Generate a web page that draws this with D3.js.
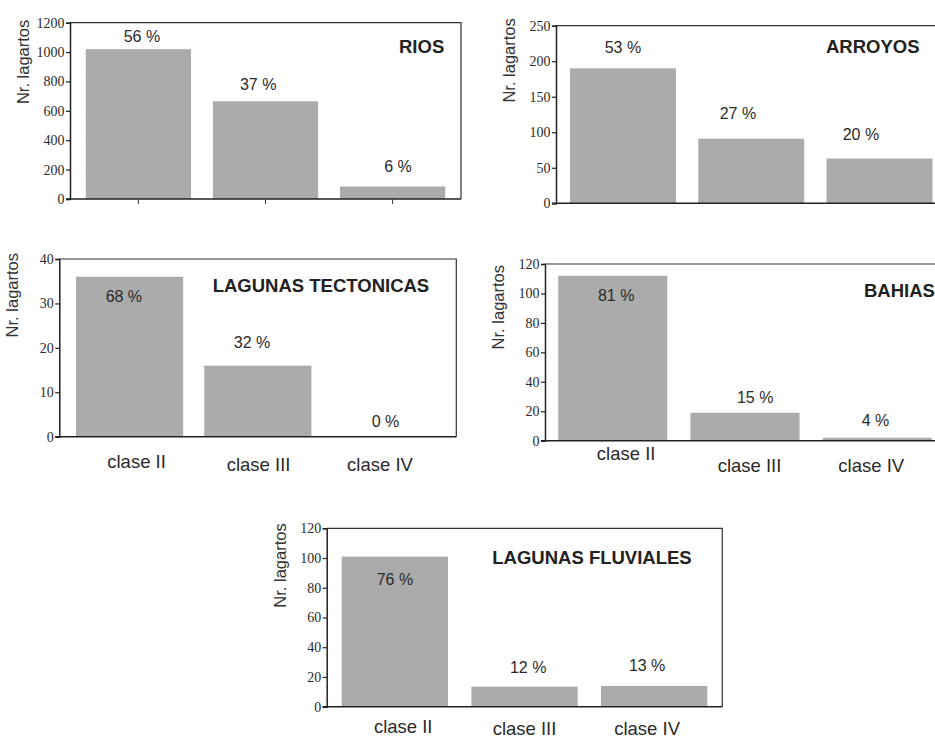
<!DOCTYPE html>
<html>
<head>
<meta charset="utf-8">
<script src="https://cdn.jsdelivr.net/npm/d3@7"></script>
<style>
  html, body { margin: 0; padding: 0; background: #fff; }
  svg { display: block; }
</style>
</head>
<body>
<svg id="chart" width="935" height="739"></svg>
<script>
// ---------------- DATA ----------------
const categories = ["clase II", "clase III", "clase IV"];

const riosValues = [1020, 665, 85];
const riosPct = ["56 %", "37 %", "6 %"];
const riosTicks = [0, 200, 400, 600, 800, 1000, 1200];

const arroyosValues = [190, 91, 63];
const arroyosPct = ["53 %", "27 %", "20 %"];
const arroyosTicks = [0, 50, 100, 150, 200, 250];

const tectonicasValues = [36, 16, 0];
const tectonicasPct = ["68 %", "32 %", "0 %"];
const tectonicasTicks = [0, 10, 20, 30, 40];

const bahiasValues = [112, 19, 2];
const bahiasPct = ["81 %", "15 %", "4 %"];
const bahiasTicks = [0, 20, 40, 60, 80, 100, 120];

const fluvialesValues = [101, 13.5, 14];
const fluvialesPct = ["76 %", "12 %", "13 %"];
const fluvialesTicks = [0, 20, 40, 60, 80, 100, 120];

const yAxisTitle = "Nr. lagartos";

// ---------------- LAYOUT / STYLE ----------------
const panels = [
  { name: "RIOS", values: riosValues, pct: riosPct, ticks: riosTicks,
    left: 70, top: 22.7, right: 461, bottom: 199, pi: 0.172, po: 0.124,
    titleX: 399, titleY: 52.7, titleYOff: -3, xTicks: true, showCats: false,
    lblDy: [-7.3, -11, -14.3], lblDx: [3.5, -7.3, 5.4] },
  { name: "ARROYOS", values: arroyosValues, pct: arroyosPct, ticks: arroyosTicks,
    left: 556, top: 25.7, right: 946.5, bottom: 203.3, pi: 0.174, po: 0.109,
    titleX: 826, titleY: 53.3, titleYOff: -7.5, xTicks: false, showCats: false,
    lblDy: [-15, -19.4, -18.3], lblDx: [0, -13.3, -18.6] },
  { name: "LAGUNAS TECTONICAS", values: tectonicasValues, pct: tectonicasPct, ticks: tectonicasTicks,
    left: 59.3, top: 259, right: 456.3, bottom: 436.7, pi: 0.164, po: 0.13,
    titleX: 212.7, titleY: 291.7, titleYOff: -6, xTicks: false, showCats: true,
    lblDy: [25, -18, -10], lblDx: [-5.7, -5.7, -0.6],
    catDx: [7, 0.8, -6], catDy: [31, 34.3, 34.3] },
  { name: "BAHIAS", values: bahiasValues, pct: bahiasPct, ticks: bahiasTicks,
    left: 545, top: 264, right: 945, bottom: 440.7, pi: 0.175, po: 0.1,
    titleX: 864, titleY: 296.7, titleYOff: 1, xTicks: false, showCats: true,
    lblDy: [25.7, -9.7, -11.7], lblDx: [3.4, 10.2, -1.7],
    catDx: [13.4, 4.5, -6], catDy: [19.3, 31, 31] },
  { name: "LAGUNAS FLUVIALES", values: fluvialesValues, pct: fluvialesPct, ticks: fluvialesTicks,
    left: 326.7, top: 528.3, right: 722.3, bottom: 706.7, pi: 0.18, po: 0.116,
    titleX: 492.3, titleY: 564, titleYOff: -5, xTicks: false, showCats: true,
    lblDy: [28, -14, -15.3], lblDx: [0, 3.7, -7],
    catDx: [8.3, 0, -7], catDy: [26.5, 28.2, 28.2] }
];

const BAR = "#ababab";
const INK = "#2a2a2a";
const SANS = "'Liberation Sans', Arial, sans-serif";
const SERIF = "'Liberation Serif', 'Times New Roman', serif";

const svg = d3.select("#chart");

panels.forEach(p => {
  const g = svg.append("g");
  const x = d3.scaleBand().domain(categories).range([p.left, p.right])
    .paddingInner(p.pi).paddingOuter(p.po);
  const domainMax = p.ticks[p.ticks.length - 1];
  const y = d3.scaleLinear().domain([0, domainMax]).range([p.bottom, p.top]);

  // bars
  g.selectAll("rect.bar").data(p.values).join("rect")
    .attr("class", "bar")
    .attr("x", (d, i) => x(categories[i]))
    .attr("width", x.bandwidth())
    .attr("y", d => y(d))
    .attr("height", d => y(0) - y(d))
    .attr("fill", BAR);

  // frame (top + right)
  g.append("path")
    .attr("d", `M${p.left},${p.top}H${p.right}V${p.bottom}`)
    .attr("fill", "none").attr("stroke", "#333").attr("stroke-width", 1.2);

  // y axis
  const yAxis = d3.axisLeft(y).tickValues(p.ticks).tickSize(4).tickPadding(1.5)
    .tickFormat(d3.format("d"));
  const ya = g.append("g").attr("transform", `translate(${p.left},0)`).call(yAxis);
  ya.select(".domain").attr("stroke", "#222").attr("stroke-width", 1.5);
  ya.selectAll(".tick line").attr("stroke", "#222").attr("stroke-width", 1.2);
  ya.selectAll(".tick text").attr("font-family", SERIF).attr("font-size", 14)
    .attr("fill", INK);

  // x axis (bottom line)
  const xAxis = d3.axisBottom(x).tickSize(p.xTicks ? 5 : 0).tickFormat("");
  const xa = g.append("g").attr("transform", `translate(0,${p.bottom})`).call(xAxis);
  xa.select(".domain").attr("stroke", "#222").attr("stroke-width", 1.6)
    .attr("d", `M${p.left - 4},0H${p.right}`);
  xa.selectAll(".tick line").attr("stroke", "#333").attr("stroke-width", 1);

  // percentage labels
  g.selectAll("text.pct").data(p.pct).join("text")
    .attr("class", "pct")
    .attr("x", (d, i) => x(categories[i]) + x.bandwidth() / 2 + p.lblDx[i])
    .attr("y", (d, i) => y(p.values[i]) + p.lblDy[i])
    .attr("text-anchor", "middle")
    .attr("font-family", SANS).attr("font-size", 16).attr("fill", INK)
    .text(d => d);

  // category labels
  if (p.showCats) {
    g.selectAll("text.cat").data(categories).join("text")
      .attr("class", "cat")
      .attr("x", (d, i) => x(d) + x.bandwidth() / 2 + p.catDx[i])
      .attr("y", (d, i) => p.bottom + p.catDy[i])
      .attr("text-anchor", "middle")
      .attr("font-family", SANS).attr("font-size", 18.5).attr("fill", INK)
      .text(d => d);
  }

  // panel title
  g.append("text")
    .attr("x", p.titleX).attr("y", p.titleY)
    .attr("font-family", SANS).attr("font-weight", "bold").attr("font-size", 18.5)
    .attr("fill", "#222")
    .text(p.name);

  // y axis title
  g.append("text")
    .attr("transform", `translate(${p.left - 41},${p.top + p.titleYOff}) rotate(-90)`)
    .attr("text-anchor", "end")
    .attr("font-family", SANS).attr("font-size", 16.5).attr("fill", "#333")
    .text(yAxisTitle);
});
</script>
</body>
</html>
